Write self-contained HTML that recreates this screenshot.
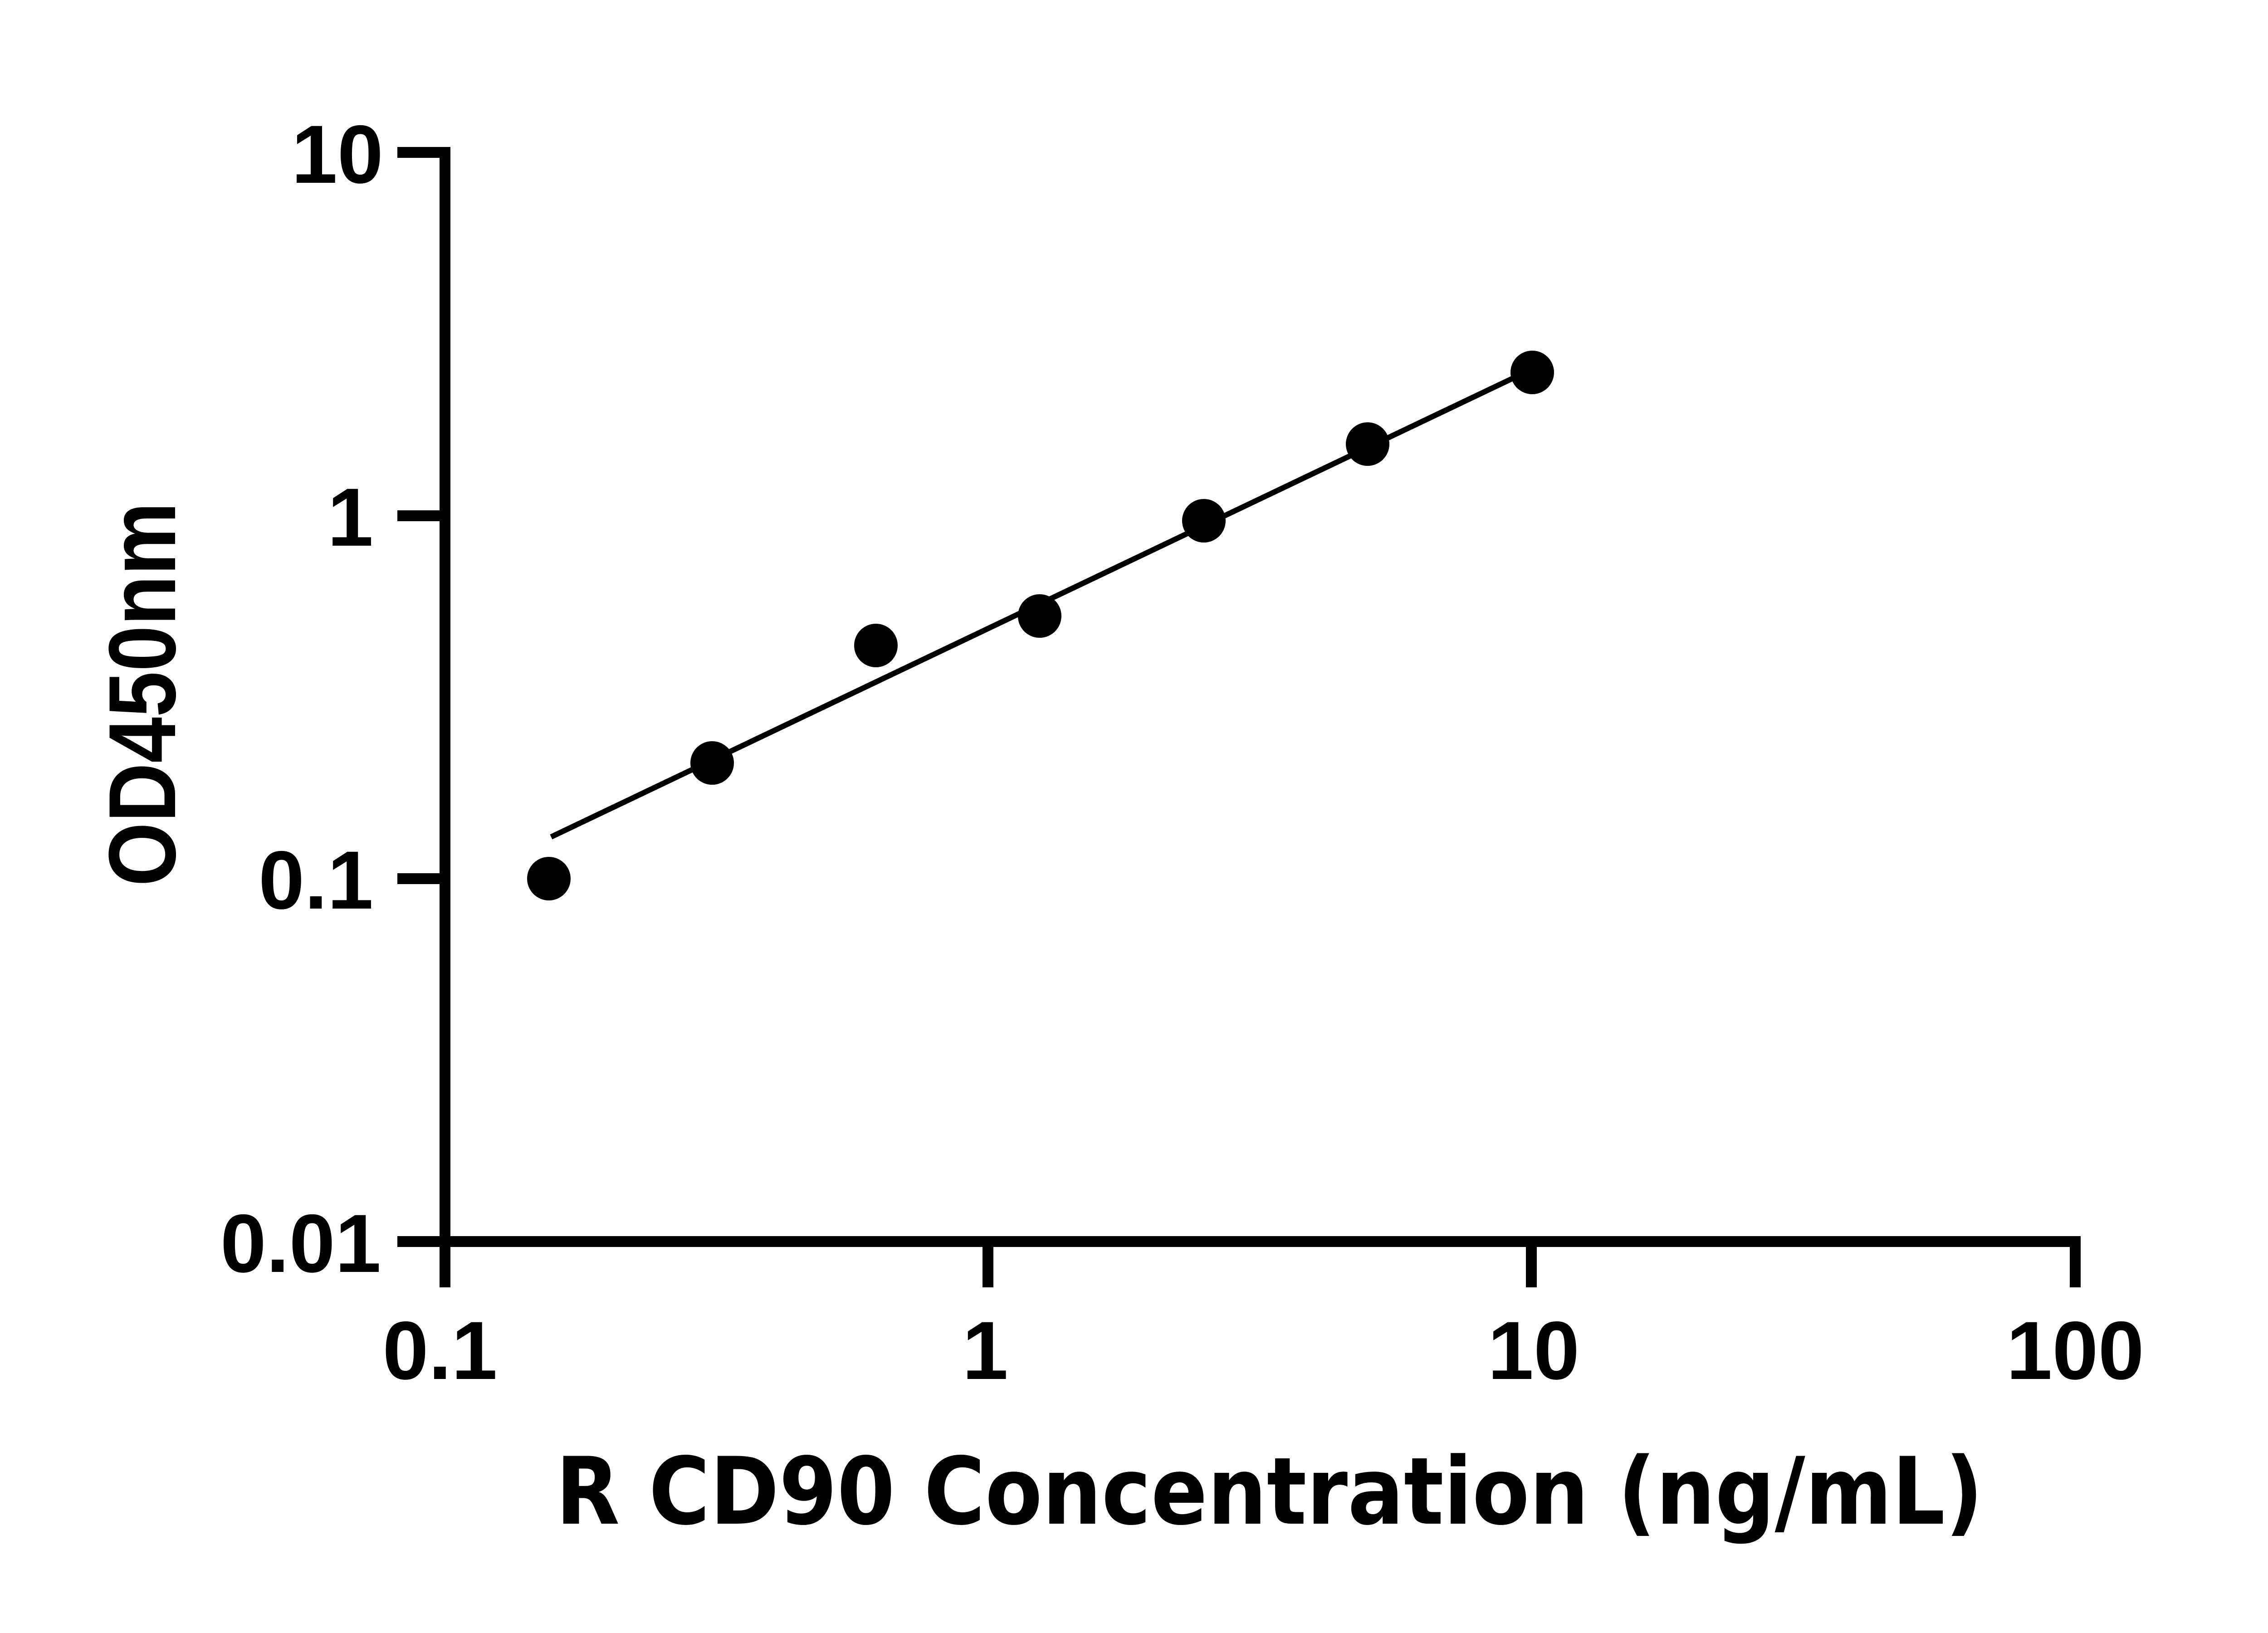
<!DOCTYPE html>
<html><head><meta charset="utf-8"><style>html,body{margin:0;padding:0;background:#fff}svg{display:block}</style></head>
<body>
<svg width="5130" height="3600" viewBox="0 0 5130 3600" xmlns="http://www.w3.org/2000/svg">
<rect width="5130" height="3600" fill="#fff"/>
<g stroke="#000" stroke-width="24" fill="none">
<line x1="981" y1="324" x2="981" y2="2749"/>
<line x1="876" y1="2737" x2="4587" y2="2737"/>
<line x1="876" y1="336" x2="993" y2="336"/>
<line x1="876" y1="1137" x2="981" y2="1137"/>
<line x1="876" y1="1937" x2="981" y2="1937"/>
<line x1="981" y1="2737" x2="981" y2="2838"/>
<line x1="2178" y1="2737" x2="2178" y2="2838"/>
<line x1="3376" y1="2737" x2="3376" y2="2838"/>
<line x1="4575" y1="2737" x2="4575" y2="2838"/>
</g>
<line x1="1215" y1="1845" x2="3335" y2="834" stroke="#000" stroke-width="12"/>
<g fill="#000">
<circle cx="1210" cy="1937" r="48"/>
<circle cx="1570" cy="1682" r="48"/>
<circle cx="1931" cy="1423" r="48"/>
<circle cx="2292" cy="1358" r="48"/>
<circle cx="2654" cy="1148" r="48"/>
<circle cx="3015" cy="979" r="48"/>
<circle cx="3378" cy="821" r="48"/>
</g>
<g style="font-family:'Liberation Sans',Arial,sans-serif" font-weight="bold" font-size="182" fill="#000">
<text x="845" y="403" text-anchor="end">10</text>
<text x="823" y="1203" text-anchor="end">1</text>
<text x="823" y="2003" text-anchor="end">0.1</text>
<text x="840" y="2804" text-anchor="end">0.01</text>
<text x="970" y="3040" text-anchor="middle">0.1</text>
<text x="2172" y="3040" text-anchor="middle">1</text>
<text x="3381" y="3040" text-anchor="middle">10</text>
<text x="4575" y="3040" text-anchor="middle">100</text>
</g>
<text x="1225" y="3359" style="font-family:'DejaVu Sans','Liberation Sans',sans-serif" font-weight="bold" font-size="205" textLength="3147" lengthAdjust="spacingAndGlyphs" fill="#000">R CD90 Concentration (ng/mL)</text>
<text transform="translate(386,1954) rotate(-90)" x="0" y="0" style="font-family:'Liberation Sans',Arial,sans-serif" font-weight="bold" font-size="210" textLength="847" lengthAdjust="spacingAndGlyphs" fill="#000">OD450nm</text>
</svg>
</body></html>
